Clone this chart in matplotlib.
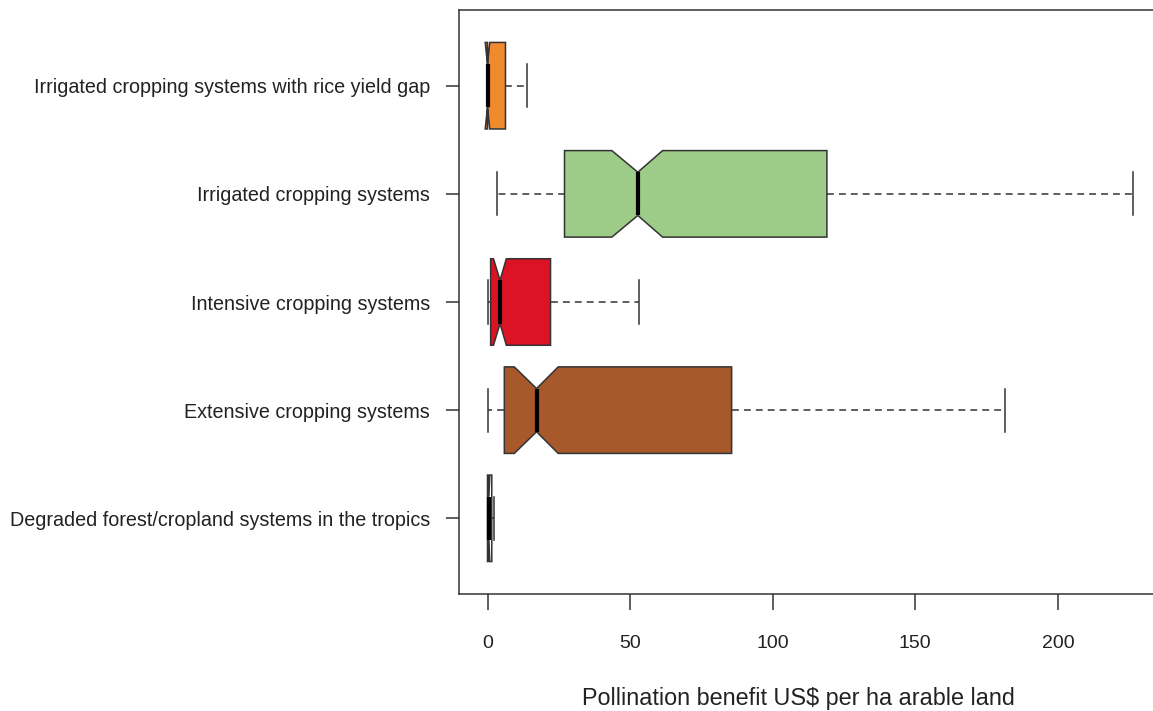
import matplotlib
matplotlib.use("Agg")
import matplotlib.pyplot as plt

plt.rcParams['font.family'] = ['Liberation Sans', 'DejaVu Sans']

# Categories from bottom (position 1) to top (position 5)
categories = [
    "Degraded forest/cropland systems in the tropics",
    "Extensive cropping systems",
    "Intensive cropping systems",
    "Irrigated cropping systems",
    "Irrigated cropping systems with rice yield gap",
]
colors = ["#FFFFFF", "#A8592C", "#DC1324", "#9DCB88", "#F08A2C"]

# Box statistics (US$ per ha arable land)
whis_lo = [0.0, 0.1, 0.2, 3.2, 0.0]
q1      = [0.0, 5.9, 1.1, 27.0, 0.0]
median  = [0.5, 17.2, 4.4, 52.7, 0.0]
q3      = [1.5, 85.6, 22.1, 119.0, 6.3]
whis_hi = [2.3, 181.6, 53.0, 226.4, 14.0]
notch_lo = [0.2, 9.4, 2.1, 43.6, -0.8]
notch_hi = [0.8, 24.8, 6.6, 61.4, 0.8]

xticks = [0, 50, 100, 150, 200]
xlabel = "Pollination benefit US$ per ha arable land"

W, H = 1153, 711
fig = plt.figure(figsize=(W / 100, H / 100), dpi=100)
left_px, right_px, top_px, bottom_px = 459, 1155, 10, 594
zero_px, px_per_unit = 487.5, 2.852
ax = fig.add_axes([left_px / W, 1 - bottom_px / H,
                   (right_px - left_px) / W, (bottom_px - top_px) / H])

stats = []
for i in range(len(categories)):
    stats.append(dict(med=median[i], q1=q1[i], q3=q3[i],
                      whislo=whis_lo[i], whishi=whis_hi[i],
                      cilo=notch_lo[i], cihi=notch_hi[i], fliers=[]))

positions = list(range(1, len(categories) + 1))
edge = "#333333"
bp = ax.bxp(stats, positions=positions, widths=0.8, orientation='horizontal',
            shownotches=True, patch_artist=True, showfliers=False,
            boxprops=dict(edgecolor=edge, linewidth=1.1),
            whiskerprops=dict(color=edge, linewidth=1.1, linestyle=(0, (4.5, 3.3))),
            capprops=dict(color=edge, linewidth=1.1),
            medianprops=dict(color="black", linewidth=3.0, solid_capstyle="butt"),
            capwidths=0.4)
for patch, c in zip(bp['boxes'], colors):
    patch.set_facecolor(c)

ax.set_xlim((left_px - zero_px) / px_per_unit, (right_px - zero_px) / px_per_unit)
ax.set_ylim(0.3, 5.7)
ax.set_xticks(xticks)
ax.set_xticklabels([str(t) for t in xticks])
ax.set_yticks(positions)
ax.set_yticklabels(categories)

for sp in ax.spines.values():
    sp.set_color(edge)
    sp.set_linewidth(1.1)

ax.tick_params(axis='x', length=11.5, width=1.1, color=edge, pad=18,
               labelsize=14, labelcolor="#222222")
ax.tick_params(axis='y', length=9.4, width=1.1, color=edge, pad=11.5,
               labelsize=14.2, labelcolor="#222222")

ax.set_xlabel(xlabel, fontsize=16.8, color="#222222")
ax.xaxis.set_label_coords((798 - left_px) / (right_px - left_px),
                          (bottom_px - 698) / (bottom_px - top_px))
ax.xaxis.label.set_va('center')

fig.savefig("out.png", dpi=100)
